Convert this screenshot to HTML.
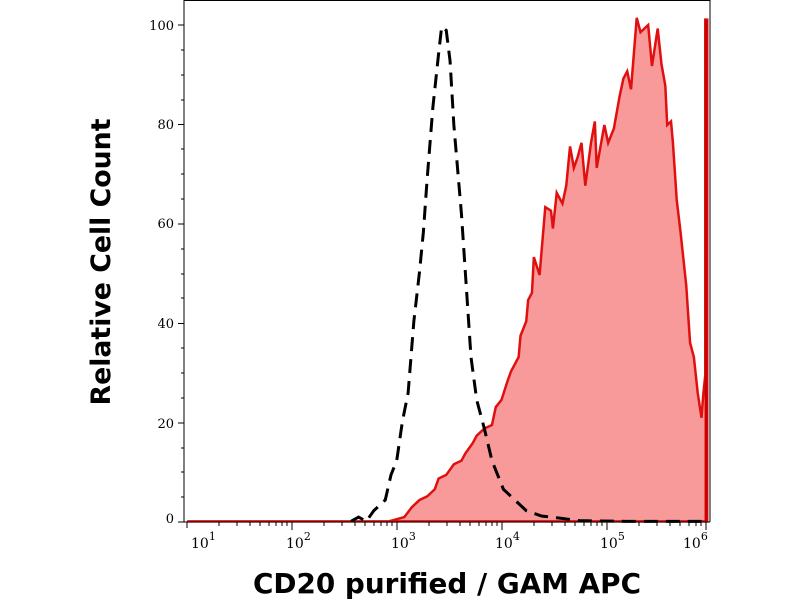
<!DOCTYPE html>
<html><head><style>
body{margin:0;background:#fff;}
svg{display:block;}
</style></head><body>
<svg width="800" height="600" xmlns="http://www.w3.org/2000/svg">
<rect width="800" height="600" fill="#fff"/>
<g transform="translate(130,0) scale(0.381,0.3571)">
<path d="M150,1460 L680,1460 L720,1448 L740,1420 L760,1400 L780,1390 L800,1370 L810,1340 L830,1330 L850,1300 L870,1290 L880,1270 L900,1240 L910,1220 L930,1200 L950,1190 L960,1140 L975,1120 L990,1070 L1000,1040 L1020,1000 L1025,940 L1040,900 L1045,840 L1055,820 L1060,720 L1075,770 L1090,580 L1105,590 L1110,640 L1120,540 L1135,570 L1145,520 L1155,410 L1165,470 L1175,440 L1185,400 L1195,520 L1210,400 L1220,340 L1225,470 L1245,350 L1255,400 L1270,360 L1285,270 L1295,220 L1305,200 L1315,250 L1330,50 L1340,90 L1360,70 L1370,185 L1385,80 L1395,180 L1405,240 L1410,350 L1420,340 L1425,400 L1435,560 L1445,650 L1450,700 L1460,800 L1470,960 L1480,1000 L1490,1100 L1500,1170 L1505,1100 L1510,1050 L1510,55 L1515,55 L1515,1460 Z" fill="#f99a9a" stroke="#e01010" stroke-width="2.5" vector-effect="non-scaling-stroke"/>
<path d="M580,1460 L600,1448 L620,1460 L640,1430 L670,1400 L685,1330 L700,1290 L715,1180 L730,1100 L745,900 L760,760 L770,650 L780,500 L795,300 L810,150 L818,75 L830,85 L840,170 L850,350 L870,600 L880,760 L895,1000 L910,1120 L930,1200 L950,1290 L980,1370 L1000,1390 L1040,1430 L1080,1445 L1120,1450 L1180,1458 L1300,1460 L1500,1460" fill="none" stroke="#000" stroke-width="3" stroke-dasharray="14 8" vector-effect="non-scaling-stroke"/>
<line x1="1512" y1="55" x2="1512" y2="1460" stroke="#c00" stroke-width="3" vector-effect="non-scaling-stroke"/>
</g>
<g stroke="#000" stroke-width="1" fill="none">
<line x1="184" y1="0.5" x2="710" y2="0.5"/>
<line x1="710" y1="0" x2="710" y2="522"/>
<line x1="184" y1="0" x2="184" y2="522"/>
<line x1="184" y1="522" x2="710" y2="522"/>
</g>
<g stroke="#000" stroke-width="1">
<line x1="178" y1="25" x2="184" y2="25"/><line x1="178" y1="124.5" x2="184" y2="124.5"/><line x1="178" y1="224" x2="184" y2="224"/><line x1="178" y1="323.5" x2="184" y2="323.5"/><line x1="178" y1="423" x2="184" y2="423"/><line x1="178" y1="522" x2="184" y2="522"/>
<line x1="181" y1="50" x2="184" y2="50"/><line x1="181" y1="75" x2="184" y2="75"/><line x1="181" y1="100" x2="184" y2="100"/><line x1="181" y1="149" x2="184" y2="149"/><line x1="181" y1="174" x2="184" y2="174"/><line x1="181" y1="199" x2="184" y2="199"/><line x1="181" y1="249" x2="184" y2="249"/><line x1="181" y1="274" x2="184" y2="274"/><line x1="181" y1="298" x2="184" y2="298"/><line x1="181" y1="348" x2="184" y2="348"/><line x1="181" y1="373" x2="184" y2="373"/><line x1="181" y1="398" x2="184" y2="398"/><line x1="181" y1="448" x2="184" y2="448"/><line x1="181" y1="472" x2="184" y2="472"/><line x1="181" y1="497" x2="184" y2="497"/>
</g>
<g font-family="'DejaVu Serif','Liberation Serif',serif" font-size="13" fill="#000" text-anchor="end">
<text x="174" y="30">100</text><text x="174" y="129">80</text><text x="174" y="228">60</text><text x="174" y="328">40</text><text x="174" y="428">20</text><text x="174" y="523">0</text>
</g>
<g font-family="'DejaVu Serif','Liberation Serif',serif" font-size="14" fill="#000">
<text x="191" y="548">10<tspan dy="-8" font-size="11">1</tspan></text>
<text x="286" y="548">10<tspan dy="-8" font-size="11">2</tspan></text>
<text x="391" y="548">10<tspan dy="-8" font-size="11">3</tspan></text>
<text x="495" y="548">10<tspan dy="-8" font-size="11">4</tspan></text>
<text x="600" y="548">10<tspan dy="-8" font-size="11">5</tspan></text>
<text x="683" y="548">10<tspan dy="-8" font-size="11">6</tspan></text>
</g>
<text x="447" y="593" text-anchor="middle" font-family="'DejaVu Sans','Liberation Sans',sans-serif" font-weight="bold" font-size="28" textLength="388" lengthAdjust="spacingAndGlyphs">CD20 purified / GAM APC</text>
<text transform="translate(110,262) rotate(-90)" text-anchor="middle" font-family="'DejaVu Sans','Liberation Sans',sans-serif" font-weight="bold" font-size="27" textLength="287" lengthAdjust="spacingAndGlyphs">Relative Cell Count</text>
<g stroke="#000" stroke-width="1">
<line x1="292" y1="522" x2="292" y2="530"/><line x1="397" y1="522" x2="397" y2="530"/><line x1="502" y1="522" x2="502" y2="530"/><line x1="607" y1="522" x2="607" y2="530"/><line x1="706" y1="522" x2="706" y2="530"/><line x1="187" y1="522" x2="187" y2="528"/>
</g>
<g stroke="#000" stroke-width="1">
<line x1="219" y1="522" x2="219" y2="526"/><line x1="237" y1="522" x2="237" y2="526"/><line x1="250" y1="522" x2="250" y2="526"/><line x1="260" y1="522" x2="260" y2="526"/><line x1="269" y1="522" x2="269" y2="526"/><line x1="276" y1="522" x2="276" y2="526"/><line x1="282" y1="522" x2="282" y2="526"/><line x1="287" y1="522" x2="287" y2="526"/>
<line x1="324" y1="522" x2="324" y2="526"/><line x1="342" y1="522" x2="342" y2="526"/><line x1="355" y1="522" x2="355" y2="526"/><line x1="365" y1="522" x2="365" y2="526"/><line x1="374" y1="522" x2="374" y2="526"/><line x1="381" y1="522" x2="381" y2="526"/><line x1="387" y1="522" x2="387" y2="526"/><line x1="392" y1="522" x2="392" y2="526"/>
<line x1="429" y1="522" x2="429" y2="526"/><line x1="447" y1="522" x2="447" y2="526"/><line x1="460" y1="522" x2="460" y2="526"/><line x1="470" y1="522" x2="470" y2="526"/><line x1="479" y1="522" x2="479" y2="526"/><line x1="486" y1="522" x2="486" y2="526"/><line x1="492" y1="522" x2="492" y2="526"/><line x1="497" y1="522" x2="497" y2="526"/>
<line x1="534" y1="522" x2="534" y2="526"/><line x1="552" y1="522" x2="552" y2="526"/><line x1="565" y1="522" x2="565" y2="526"/><line x1="575" y1="522" x2="575" y2="526"/><line x1="584" y1="522" x2="584" y2="526"/><line x1="591" y1="522" x2="591" y2="526"/><line x1="597" y1="522" x2="597" y2="526"/><line x1="602" y1="522" x2="602" y2="526"/>
<line x1="639" y1="522" x2="639" y2="526"/><line x1="657" y1="522" x2="657" y2="526"/><line x1="670" y1="522" x2="670" y2="526"/><line x1="680" y1="522" x2="680" y2="526"/><line x1="689" y1="522" x2="689" y2="526"/><line x1="696" y1="522" x2="696" y2="526"/><line x1="701" y1="522" x2="701" y2="526"/>
</g>
</svg>
</body></html>
